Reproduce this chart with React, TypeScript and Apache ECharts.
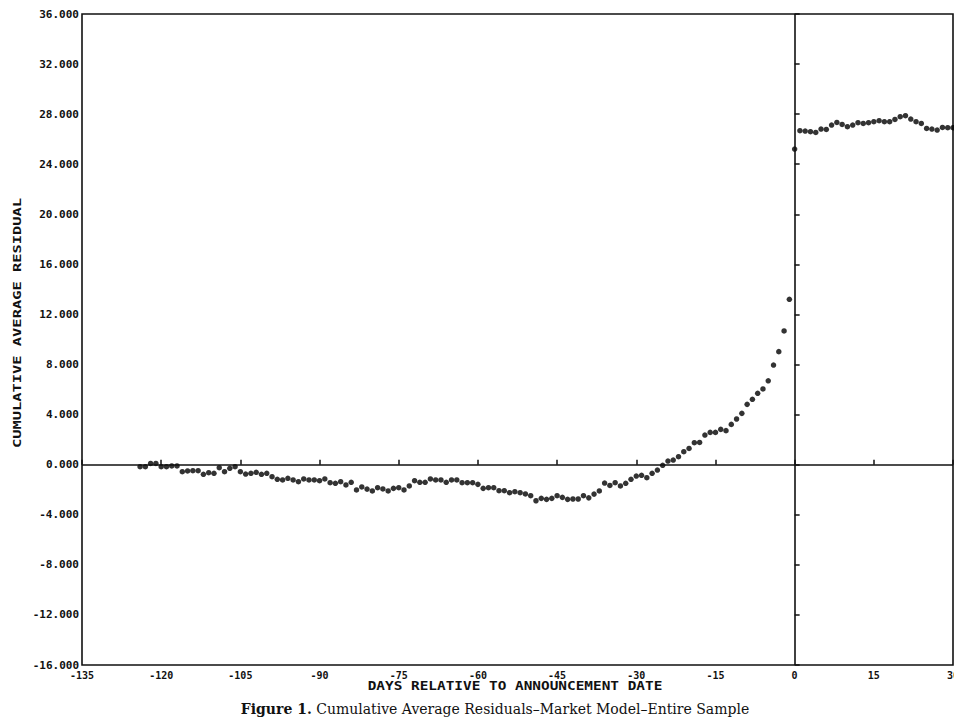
import React, { useEffect, useRef } from "react";
import * as echarts from "echarts";

// Event-time window: first observed day, then one value per trading day up to +30
const DAY_START = -124;

// Cumulative average residuals (%), days -124 .. +30
const carPreEvent1 = [
  -0.16, -0.16, 0.1, 0.1, -0.16, -0.16, -0.1, -0.1, -0.56, -0.5, -0.48, -0.48,
  -0.77, -0.64, -0.69, -0.24, -0.56, -0.29, -0.16, -0.56, -0.75, -0.69, -0.61,
  -0.77, -0.69, -0.96, -1.17, -1.22, -1.09, -1.22, -1.36, -1.14, -1.22, -1.22,
  -1.28, -1.14, -1.44, -1.49, -1.36, -1.62, -1.41, -2.02, -1.78, -1.95,
]; // days -124 .. -81
const carPreEvent2 = [
  -2.1, -1.84, -1.94, -2.1, -1.89, -1.84, -2.02, -1.7, -1.28, -1.41, -1.41,
  -1.14, -1.22, -1.22, -1.41, -1.22, -1.22, -1.44, -1.44, -1.44, -1.57, -1.89,
  -1.84, -1.84, -2.08, -2.08, -2.24, -2.16, -2.24, -2.34, -2.48, -2.88, -2.69,
  -2.77, -2.69, -2.48, -2.61, -2.77, -2.74, -2.74, -2.48, -2.65, -2.35, -2.1,
  -1.47, -1.66,
]; // days -80 .. -35
const carPreEvent3 = [
  -1.44, -1.7, -1.49, -1.17, -0.91, -0.85, -1.04, -0.69, -0.43, -0.05, 0.29,
  0.37, 0.64, 1.04, 1.3, 1.76, 1.78, 2.37, 2.58, 2.58, 2.82, 2.72, 3.22, 3.65,
  4.1, 4.82, 5.22, 5.7, 6.05, 6.7, 7.96, 9.03, 10.68, 13.21,
]; // days -34 .. -1
const carPostEvent = [
  25.21, 26.68, 26.65, 26.6, 26.54, 26.81, 26.78, 27.13, 27.34, 27.18, 27.0,
  27.13, 27.32, 27.26, 27.32, 27.4, 27.48, 27.4, 27.4, 27.58, 27.8, 27.88,
  27.61, 27.4, 27.26, 26.86, 26.81, 26.73, 26.94, 26.92, 26.92,
]; // days 0 .. 30

const xTicks = { min: -135, max: 30, interval: 15 };
const yTicks = { min: -16, max: 36, interval: 4 };

const xTitle = "DAYS RELATIVE TO ANNOUNCEMENT DATE";
const yTitle = "CUMULATIVE AVERAGE RESIDUAL";
const captionBold = "Figure 1.";
const captionRest = " Cumulative Average Residuals\u2013Market Model\u2013Entire Sample";

const INK = "#111111";
const MONO = "'DejaVu Sans Mono', 'Liberation Mono', monospace";

export default function App() {
  const ref = useRef<HTMLDivElement>(null);

  useEffect(() => {
    if (!ref.current) return;
    const chart = echarts.init(ref.current, null, { renderer: "svg" });
    const values = [...carPreEvent1, ...carPreEvent2, ...carPreEvent3, ...carPostEvent];
    const points = values.map((v, i) => [DAY_START + i, v]);

    chart.setOption({
      animation: false,
      backgroundColor: "#ffffff",
      grid: {
        left: 82,
        right: 1,
        top: 14,
        bottom: 55,
        show: true,
        borderColor: INK,
        borderWidth: 1.6,
        backgroundColor: "transparent",
        containLabel: false,
        outerBoundsMode: "none",
      },
      xAxis: {
        type: "value",
        min: xTicks.min,
        max: xTicks.max,
        interval: xTicks.interval,
        splitLine: { show: false },
        axisLine: { show: false },
        axisTick: { show: true, inside: true, length: 5, lineStyle: { color: INK, width: 1.5 } },
        axisLabel: {
          margin: 5,
          fontFamily: MONO,
          fontWeight: "bold",
          fontSize: 10,
          color: INK,
          showMaxLabel: true,
          showMinLabel: true,
          hideOverlap: false,
        },
      },
      yAxis: {
        type: "value",
        min: yTicks.min,
        max: yTicks.max,
        interval: yTicks.interval,
        splitLine: { show: false },
        axisLine: { show: false },
        axisTick: { show: true, inside: true, length: 5, lineStyle: { color: INK, width: 1.5 } },
        axisLabel: {
          margin: 3,
          fontFamily: MONO,
          fontWeight: "bold",
          fontSize: 11,
          color: INK,
          formatter: (v: number) => v.toFixed(3),
        },
      },
      series: [
        {
          type: "scatter",
          data: points,
          symbol: "circle",
          symbolSize: 5.5,
          itemStyle: { color: "#000" },
          markLine: {
            silent: true,
            symbol: "none",
            label: { show: false },
            lineStyle: { color: INK, width: 1.6, type: "solid" },
            data: [{ yAxis: 0 }, { xAxis: 0 }],
          },
        },
      ],
      graphic: [
        {
          type: "text",
          x: 515,
          y: 686,
          scaleX: 1.2,
          style: {
            text: xTitle,
            font: `bold 12px ${MONO}`,
            fill: INK,
            align: "center",
            verticalAlign: "middle",
          },
        },
        {
          type: "text",
          x: 17,
          y: 323,
          rotation: Math.PI / 2,
          scaleX: 1.4,
          style: {
            text: yTitle,
            font: `bold 11px ${MONO}`,
            fill: INK,
            align: "center",
            verticalAlign: "middle",
          },
        },
        {
          type: "text",
          x: 495,
          y: 709,
          style: {
            text: `{b|${captionBold}}{r|${captionRest}}`,
            align: "center",
            verticalAlign: "middle",
            fill: "#111",
            rich: {
              b: { fontFamily: "'DejaVu Serif', serif", fontWeight: "bold", fontSize: 14, fill: "#111" },
              r: { fontFamily: "'DejaVu Serif', serif", fontSize: 14, fill: "#111" },
            },
          },
        },
      ],
    });

    return () => chart.dispose();
  }, []);

  return (
    <div
      ref={ref}
      style={{ position: "fixed", left: 0, top: 0, width: 954, height: 720, background: "#fff" }}
    />
  );
}
